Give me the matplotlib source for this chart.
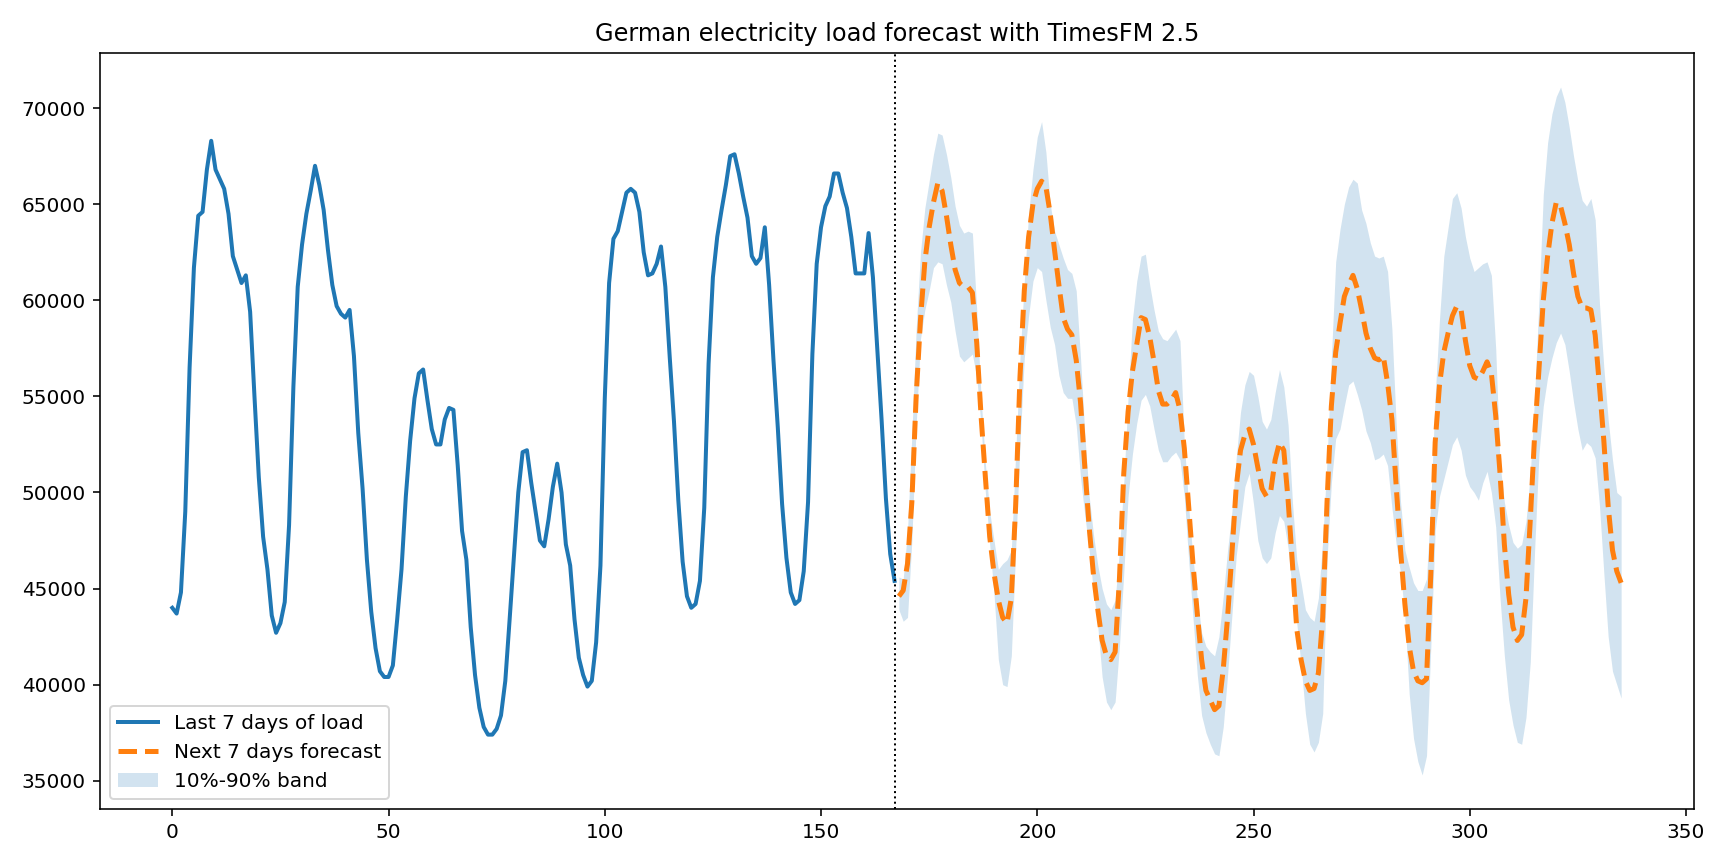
import numpy as np
import matplotlib.pyplot as plt

# last 7 days of hourly load (MW)
history = [
    44000, 43700, 44800, 49000, 56500, 61700, 64400, 64600, 66800, 68300,
    66800, 66300, 65800, 64500, 62300, 61600, 60900, 61300, 59400, 55000,
    50800, 47700, 46000, 43600, 42700, 43200, 44300, 48300, 55500, 60700,
    62900, 64500, 65700, 67000, 66000, 64700, 62600, 60800, 59700, 59300,
    59100, 59500, 57100, 53100, 50200, 46500, 43800, 41900, 40700, 40400,
    40400, 41000, 43400, 46000, 49800, 52700, 54900, 56200, 56400, 54800,
    53300, 52500, 52500, 53800, 54400, 54300, 51400, 48000, 46500, 43000,
    40500, 38800, 37800, 37400, 37400, 37700, 38400, 40200, 43400, 46700,
    50000, 52100, 52200, 50500, 49000, 47500, 47200, 48600, 50300, 51500,
    50000, 47300, 46200, 43400, 41400, 40500, 39900, 40200, 42200, 46200,
    54900, 60900, 63200, 63600, 64600, 65600, 65800, 65600, 64600, 62500,
    61300, 61400, 61900, 62800, 60700, 57100, 53700, 49600, 46400, 44600,
    44000, 44200, 45400, 49200, 56700, 61200, 63300, 64700, 66000, 67500,
    67600, 66600, 65400, 64300, 62300, 61900, 62200, 63800, 60800, 56900,
    53400, 49400, 46600, 44800, 44200, 44400, 45900, 49500, 57200, 61900,
    63800, 64900, 65400, 66600, 66600, 65600, 64800, 63300, 61400, 61400,
    61400, 63500, 61200, 57500, 53800, 49700, 46800, 45400,
]

# next 7 days, median forecast
forecast = [
    44600, 44900, 46300, 49500, 55000, 59000, 62000, 63800, 65100, 66100,
    65700, 64400, 62900, 61600, 60900, 60700, 60700, 60400, 57800, 54000,
    50800, 47700, 45800, 44400, 43500, 43200, 44500, 49300, 56000, 60500,
    63300, 65000, 65800, 66200, 65900, 64500, 62600, 60800, 59100, 58500,
    58200, 56900, 54700, 51300, 48200, 45700, 43900, 42300, 41500, 41300,
    41700, 45500, 51000, 54200, 56300, 57700, 59100, 59000, 58100, 56800,
    55300, 54600, 54600, 54800, 55200, 54300, 52300, 49300, 46300, 43700,
    41300, 39700, 39200, 38700, 38900, 40800, 43500, 46800, 50300, 52200,
    53000, 53300, 52500, 51300, 50200, 49800, 50100, 51700, 52600, 52200,
    49600, 46300, 42900, 41300, 40200, 39700, 39800, 40600, 43500, 49500,
    54500, 57300, 58800, 60200, 60800, 61300, 60600, 59500, 58300, 57500,
    57000, 56900, 57100, 55700, 53800, 50300, 47000, 44200, 42000, 40700,
    40200, 40100, 40300, 45800, 52600, 55600, 57300, 58300, 59200, 59700,
    59500, 57900, 56600, 56000, 55900, 56300, 56800, 56200, 54000, 51000,
    47300, 44700, 43000, 42300, 42600, 44500, 48600, 53000, 56400, 60000,
    62300, 64000, 65100, 64900, 64000, 62900, 61400, 60200, 59600, 59600,
    59500, 58200, 55500, 52700, 49300, 47000, 45900, 45300,
]

# 10% quantile
q10 = [
    43900, 43300, 43500, 47500, 53500, 58000, 59500, 60500, 61700, 62000,
    61900, 60800, 59900, 58400, 57100, 56800, 57000, 57200, 56000, 53500,
    50000, 47300, 44700, 41300, 40000, 39900, 41500, 47000, 52500, 57000,
    59200, 61000, 61700, 61500, 60000, 58600, 57700, 56100, 55200, 54900,
    54900, 53500, 50800, 48800, 47000, 44800, 43000, 40400, 39100, 38700,
    39100, 42000, 45800, 49800, 52000, 53600, 54800, 55100, 54500, 53300,
    52200, 51600, 51600, 51900, 52100, 51700, 49800, 46500, 43500, 40500,
    38400, 37500, 36900, 36400, 36300, 37800, 40500, 43600, 46700, 48500,
    50300, 51000, 49400, 47500, 46600, 46300, 46600, 47900, 48800, 48500,
    47100, 44800, 43200, 41000, 38500, 36900, 36500, 37000, 38500, 46500,
    50500, 52800, 53300, 54500, 55600, 55800, 55100, 54300, 53200, 52600,
    51700, 51800, 52000, 51400, 49200, 47300, 45800, 43500, 39500, 37200,
    36000, 35300, 36300, 42000, 48000, 49800, 50700, 51600, 52500, 52900,
    52200, 50900, 50300, 50000, 49600, 50500, 51100, 50000, 48200, 44500,
    41500, 39200, 37900, 37000, 36900, 38300, 41200, 47000, 52000, 54500,
    56000, 57000, 57800, 58300, 57700, 56300, 54700, 53300, 52200, 52600,
    52400, 51800, 49300, 45800, 42500, 40700, 40000, 39300,
]

# 90% quantile
q90 = [
    45600, 45500, 48000, 53000, 58500, 62500, 64800, 66200, 67600, 68700,
    68600, 67600, 66400, 64900, 63900, 63500, 63600, 63500, 59500, 55000,
    51500, 49000, 47500, 46000, 46300, 46500, 47000, 52000, 57000, 61000,
    64500, 66800, 68500, 69300, 67700, 65000, 63600, 62900, 62200, 61600,
    61400, 60500, 57000, 53000, 49800, 47800, 46200, 45000, 44200, 43900,
    44400, 47000, 50500, 55000, 59000, 61000, 62300, 62400, 60800, 59500,
    58400, 58000, 57900, 58200, 58500, 57900, 52600, 49300, 46600, 44500,
    42700, 42000, 41700, 41500, 42500, 44600, 47000, 49000, 51800, 54200,
    55600, 56300, 56100, 55000, 53700, 53300, 53800, 55200, 56400, 55500,
    53500, 49500, 46500, 45300, 43900, 43500, 43300, 44500, 47500, 51700,
    57000, 62000, 63700, 65000, 65900, 66300, 66100, 64700, 64000, 63000,
    62300, 62200, 62300, 61500, 58500, 53500, 49500, 47000, 46100, 45300,
    44900, 44900, 45500, 49500, 55000, 59000, 62300, 63800, 65300, 65600,
    64800, 63300, 62200, 61500, 61700, 61900, 62000, 61300, 57500, 51500,
    49500, 48300, 47400, 47100, 47300, 48500, 51000, 55000, 60000, 65500,
    68200, 69700, 70600, 71100, 70300, 69000, 67500, 66200, 65200, 64900,
    65300, 64200, 59800, 56500, 53800, 51700, 50000, 49800,
]

t_hist = np.arange(len(history))
t_fc = np.arange(len(history), len(history) + len(forecast))

fig, ax = plt.subplots(figsize=(12, 6), dpi=144)

ax.plot(t_hist, history, color="C0", lw=2, label="Last 7 days of load")
ax.plot(t_fc, forecast, color="C1", lw=2.5, ls="--", label="Next 7 days forecast")
ax.fill_between(t_fc, q10, q90, color="C0", alpha=0.2, lw=0, label="10%-90% band")
ax.axvline(len(history) - 1, color="black", ls=":", lw=1)

ax.set_title("German electricity load forecast with TimesFM 2.5")
ax.legend(loc="lower left")

plt.tight_layout()
plt.savefig("out.png", dpi=144)
